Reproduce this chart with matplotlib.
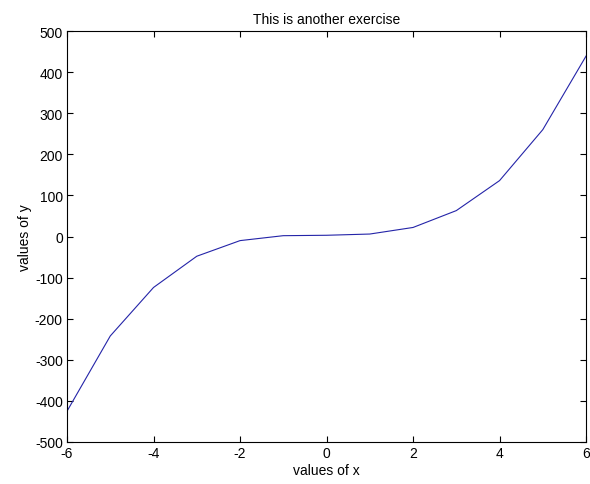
import matplotlib
matplotlib.use('Agg')
import matplotlib.pyplot as plt

x = [-6, -5, -4, -3, -2, -1, 0, 1, 2, 3, 4, 5, 6]
y = [-425, -242, -124, -48, -10, 2, 3, 6, 22, 63, 136, 260, 439]

plt.rcParams['font.family'] = ['Liberation Sans', 'DejaVu Sans']
plt.rcParams['font.size'] = 10
plt.rcParams['axes.unicode_minus'] = False

fig = plt.figure(figsize=(5.9, 4.85), dpi=100)
ax = fig.add_axes([0.1136, 0.0866, 0.8797, 0.8474])

ax.plot(x, y, color='#2424a8', linewidth=0.8)

ax.set_xlim(-6, 6)
ax.set_ylim(-500, 500)
ax.set_xticks(range(-6, 7, 2))
ax.set_yticks(range(-500, 501, 100))
ax.tick_params(direction='in', top=True, right=True, length=4, width=0.8, pad=3)
for s in ax.spines.values():
    s.set_linewidth(0.8)

ax.set_title('This is another exercise', fontsize=10, pad=6)
ax.set_xlabel('values of x', labelpad=2)
ax.set_ylabel('values of y', labelpad=2)

fig.savefig('out.png', dpi=100)
